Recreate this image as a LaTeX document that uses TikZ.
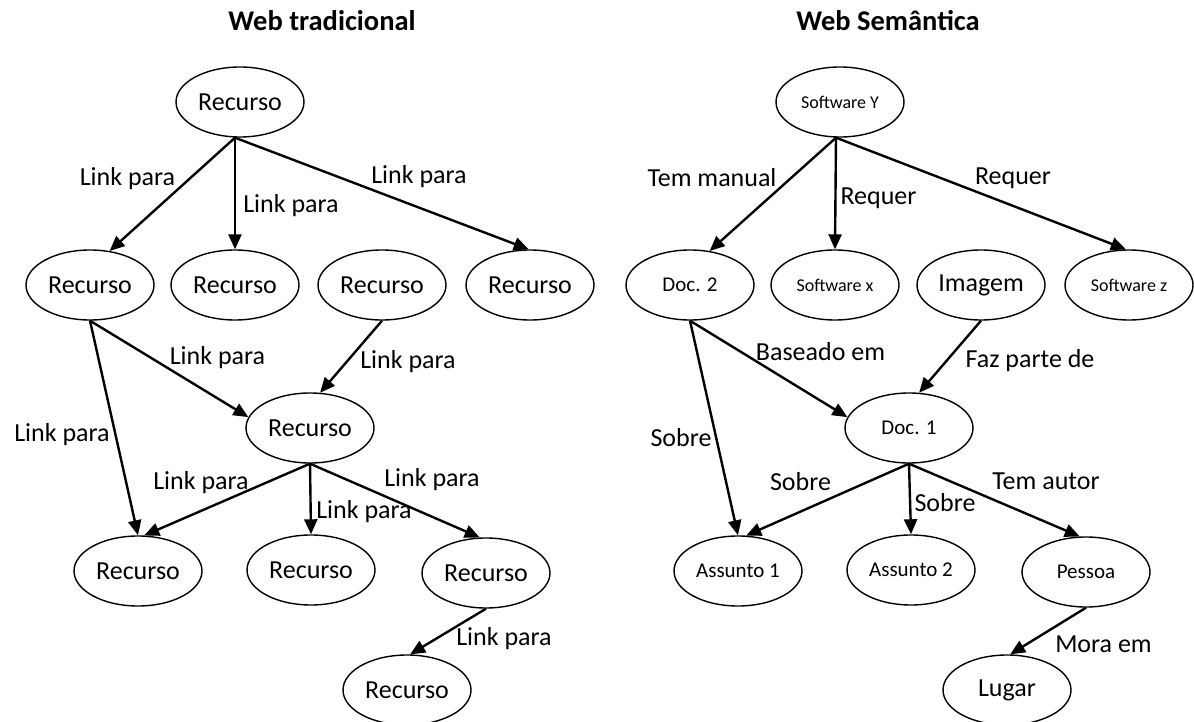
\documentclass[tikz,border=0pt]{standalone}
\usepackage{fontspec}
\setmainfont{Carlito}
\usetikzlibrary{shapes.geometric,arrows.meta}
\begin{document}
\begin{tikzpicture}[x=1pt,y=-1pt,
  res/.style={draw, ellipse, line width=1.4pt, minimum width=128pt, minimum height=70pt, inner sep=0pt, font=\fontsize{26}{30}\selectfont},
  sm/.style={res, font=\fontsize{18}{22}\selectfont},
  md/.style={res, font=\fontsize{21}{25}\selectfont},
  lbl/.style={font=\fontsize{26}{30}\selectfont, inner sep=0pt},
  ttl/.style={font=\fontsize{28.5}{32}\selectfont\bfseries, inner sep=0pt},
  arr/.style={line width=2.4pt, -{Triangle[length=15pt,width=13pt]}}]
\path[use as bounding box] (0,0) rectangle (1194,722);

% ---------- Web tradicional ----------
\node[ttl] (t1) at (322,21) {Web tradicional};
\node[res] (top) at (240,102) {Recurso};
\node[res] (r1) at (90,285) {Recurso};
\node[res] (r2) at (235,285) {Recurso};
\node[res] (r3) at (382,285) {Recurso};
\node[res] (r4) at (530,285) {Recurso};
\node[res] (m) at (310,428) {Recurso};
\node[res] (b1) at (138,571) {Recurso};
\node[res] (b2) at (311,570) {Recurso};
\node[res] (b3) at (486,573) {Recurso};
\node[res] (bt) at (407,690) {Recurso};

\draw[arr] ([xshift=-5pt]top.south) -- (r1.60);
\draw[arr] ([xshift=-5pt]top.south) -- (r2.north);
\draw[arr] ([xshift=-5pt]top.south) -- (r4.92);
\draw[arr] (r1.south) -- (m.170);
\draw[arr] (r1.south) -- (b1.north);
\draw[arr] (r3.south) -- (m.74);
\draw[arr] (m.south) -- (b1.80);
\draw[arr] (m.south) -- (b2.north);
\draw[arr] (m.south) -- (b3.100);
\draw[arr] (b3.south) -- (bt.85);

\node[lbl] (l1) at (127.5,179) {Link para};
\node[lbl] (l2) at (291,206) {Link para};
\node[lbl] (l3) at (419,177) {Link para};
\node[lbl] (l4) at (217.5,358) {Link para};
\node[lbl] (l5) at (408,362) {Link para};
\node[lbl] (l6) at (62,435) {Link para};
\node[lbl] (l7) at (201,483) {Link para};
\node[lbl] (l8) at (364,512) {Link para};
\node[lbl] (l9) at (432,480) {Link para};
\node[lbl] (l10) at (504,639) {Link para};

% ---------- Web Semantica ----------
\node[ttl] (t2) at (888,21) {Web Semântica};
\node[sm] (sy) at (840,102) {Software Y};
\node[md] (d2) at (690,285) {Doc. 2};
\node[sm] (sx) at (835,285) {Software x};
\node[res] (im) at (981,285) {Imagem};
\node[sm] (sz) at (1129,285) {Software z};
\node[md] (d1) at (909,428) {Doc. 1};
\node[md] (a1) at (738,571) {Assunto 1};
\node[md] (a2) at (911,570) {Assunto 2};
\node[md] (ps) at (1086,572) {Pessoa};
\node[res] (lg) at (1007,690) {Lugar};

\draw[arr] ([xshift=-4pt]sy.south) -- (d2.60);
\draw[arr] ([xshift=-4pt]sy.south) -- (sx.north);
\draw[arr] ([xshift=-4pt]sy.south) -- (sz.95);
\draw[arr] (d2.south) -- (d1.170);
\draw[arr] (d2.south) -- (a1.north);
\draw[arr] (im.south) -- (d1.74);
\draw[arr] (d1.south) -- (a1.77);
\draw[arr] (d1.south) -- (a2.north);
\draw[arr] (d1.south) -- (ps.100);
\draw[arr] (ps.south) -- (lg.85);

\node[lbl] (s1) at (712,178) {Tem manual};
\node[lbl] (s2) at (878.5,198) {Requer};
\node[lbl] (s3) at (1013,178) {Requer};
\node[lbl] (s4) at (820.5,352) {Baseado em};
\node[lbl] (s5) at (1030,361) {Faz parte de};
\node[lbl] (s6) at (681,438) {Sobre};
\node[lbl] (s7) at (800.5,482) {Sobre};
\node[lbl] (s8) at (945,503) {Sobre};
\node[lbl] (s9) at (1046,481) {Tem autor};
\node[lbl] (s10) at (1103.5,644) {Mora em};
\end{tikzpicture}
\end{document}
